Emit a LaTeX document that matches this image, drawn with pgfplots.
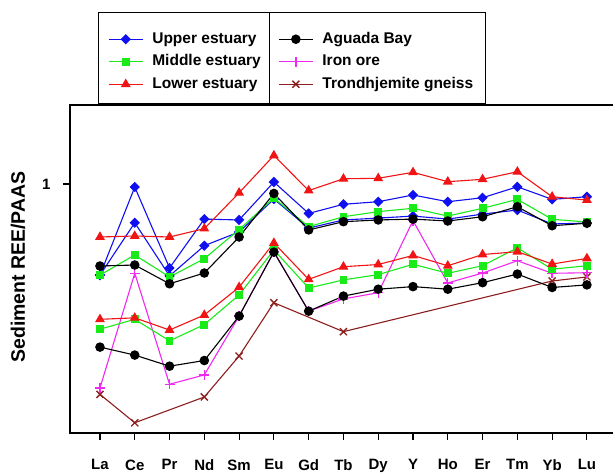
\documentclass[border=0pt]{standalone}
\usepackage{pgfplots}
\pgfplotsset{compat=1.18}
\usepackage{fontspec}
\setmainfont{Liberation Sans}
\definecolor{cblue}{RGB}{15,15,240}
\definecolor{cgreen}{RGB}{25,235,25}
\definecolor{cred}{RGB}{240,20,20}
\definecolor{cmag}{RGB}{240,40,240}
\definecolor{cbrown}{RGB}{140,30,30}
\begin{document}
\begin{tikzpicture}
\useasboundingbox (-70pt,-42pt) rectangle (543pt,433pt);
\begin{axis}[
  at={(0pt,0pt)}, anchor=south west,
  scale only axis, width=543pt, height=328pt,
  clip=false,
  ymode=log, ymin=0.1479, ymax=1.834,
  xmin=-0.862, xmax=14.75,
  xtick={0,1,2,3,4,5,6,7,8,9,10,11,12,13,14},
  xticklabels={La,Ce,Pr,Nd,Sm,Eu,Gd,Tb,Dy,Y,Ho,Er,Tm,Yb,Lu},
  ytick={1}, yticklabels={1}, yminorticks=false,
  xtick pos=lower, ytick pos=left,
  tick align=outside, major tick length=7pt,
  every tick/.style={black, line width=1.1pt},
  axis line style={draw=none},
  ticklabel style={font=\fontsize{15}{17}\selectfont\bfseries},
  xticklabel style={yshift=-16pt},
  yticklabel style={xshift=-9pt},
  ylabel={Sediment REE/PAAS},
  ylabel style={at={(axis description cs:-0.0958,0.506)}, anchor=center, font=\fontsize{19.5}{22}\selectfont\bfseries},
  legend columns=2,
  legend image code/.code={\draw[mark repeat=2,mark phase=2,#1] plot coordinates {(0pt,0pt)(17pt,0pt)(34pt,0pt)};},
  legend style={draw=none, fill=none, at={(axis description cs:0.0700,1.2286)}, anchor=north west,
    inner sep=0pt, row sep=4.5pt,
    font=\fontsize{15.5}{17}\selectfont\bfseries,
    nodes={inner ysep=2pt, inner xsep=0pt, text height=11pt, text depth=3pt},
    /tikz/every odd column/.append style={column sep=9pt},
    /tikz/every even column/.append style={column sep=9pt}},
  legend cell align=left,
  blueS/.style={cblue, line width=1.1pt, mark=square*, mark size=3.1pt, mark options={rotate=45, solid, fill=cblue}},
  greenS/.style={cgreen, line width=1.1pt, mark=square*, mark size=3.4pt, mark options={solid, fill=cgreen}},
  redS/.style={cred, line width=1.1pt, mark=triangle*, mark size=4.6pt, mark options={solid, fill=cred}},
  blackS/.style={black, line width=1.1pt, mark=*, mark size=4.2pt, mark options={solid, fill=black}},
  magS/.style={cmag, line width=1.1pt, mark=+, mark size=5pt, mark options={solid, line width=1.3pt}},
  brownS/.style={cbrown, line width=1.1pt, mark=x, mark size=5pt, mark options={solid, line width=1.3pt}},
]
\addlegendimage{blueS}\addlegendentry{\makebox[117pt][l]{Upper estuary}}
\addlegendimage{blackS}\addlegendentry{Aguada Bay}
\addlegendimage{greenS}\addlegendentry{\makebox[117pt][l]{Middle estuary}}
\addlegendimage{magS}\addlegendentry{Iron ore}
\addlegendimage{redS}\addlegendentry{\makebox[117pt][l]{Lower estuary}}
\addlegendimage{brownS}\addlegendentry{Trondhjemite gneiss}

% Trondhjemite gneiss
\addplot[brownS, forget plot] coordinates {(0,0.199)(1,0.160)(3,0.195)(4,0.267)(5,0.402)(7,0.322)(13,0.475)(14,0.490)};
% Iron ore
\addplot[magS, forget plot] coordinates {(0,0.209)(1,0.504)(2,0.215)(3,0.231)(4,0.363)(5,0.595)(6,0.377)(7,0.414)(8,0.434)(9,0.755)(10,0.468)(11,0.505)(12,0.555)(13,0.504)(14,0.506)};
% Upper estuary
\addplot[blueS, forget plot] coordinates {(0,0.497)(1,0.977)(2,0.525)(3,0.764)(4,0.759)(5,1.0155)(6,0.798)(7,0.856)(8,0.873)(9,0.919)(10,0.873)(11,0.900)(12,0.979)(13,0.889)(14,0.907)};
\addplot[blueS, forget plot] coordinates {(0,0.497)(1,0.743)(2,0.494)(3,0.623)(4,0.692)(5,0.891)(6,0.713)(7,0.759)(8,0.770)(9,0.782)(10,0.764)(11,0.794)(12,0.819)(13,0.736)(14,0.741)};
% Middle estuary
\addplot[greenS, forget plot] coordinates {(0,0.497)(1,0.580)(2,0.490)(3,0.564)(4,0.705)(5,0.898)(6,0.721)(7,0.778)(8,0.809)(9,0.830)(10,0.782)(11,0.830)(12,0.889)(13,0.763)(14,0.747)};
\addplot[greenS, forget plot] coordinates {(0,0.328)(1,0.354)(2,0.300)(3,0.340)(4,0.427)(5,0.603)(6,0.450)(7,0.479)(8,0.499)(9,0.540)(10,0.504)(11,0.534)(12,0.613)(13,0.520)(14,0.534)};
% Lower estuary
\addplot[redS, forget plot] coordinates {(0,0.666)(1,0.671)(2,0.666)(3,0.710)(4,0.935)(5,1.245)(6,0.951)(7,1.041)(8,1.045)(9,1.094)(10,1.018)(11,1.037)(12,1.099)(13,0.907)(14,0.884)};
\addplot[redS, forget plot] coordinates {(0,0.354)(1,0.358)(2,0.326)(3,0.366)(4,0.453)(5,0.636)(6,0.481)(7,0.530)(8,0.539)(9,0.578)(10,0.534)(11,0.582)(12,0.595)(13,0.541)(14,0.565)};
% Aguada Bay
\addplot[blackS, forget plot] coordinates {(0,0.533)(1,0.537)(2,0.465)(3,0.505)(4,0.666)(5,0.930)(6,0.703)(7,0.749)(8,0.759)(9,0.764)(10,0.753)(11,0.778)(12,0.840)(13,0.726)(14,0.740)};
\addplot[blackS, forget plot] coordinates {(0,0.286)(1,0.269)(2,0.247)(3,0.258)(4,0.363)(5,0.593)(6,0.377)(7,0.423)(8,0.446)(9,0.455)(10,0.446)(11,0.469)(12,0.501)(13,0.452)(14,0.461)};

\draw[line width=1.5pt, black] (axis description cs:1,1) -- (axis description cs:0,1) -- (axis description cs:0,0) -- (axis description cs:1,0);
\draw[line width=1pt, black] (axis description cs:0.05157,1.0061) rectangle (axis description cs:0.7643,1.2835);
\draw[line width=1pt, black] (axis description cs:0.3665,1.0061) -- (axis description cs:0.3665,1.2835);
\end{axis}
\end{tikzpicture}
\end{document}
